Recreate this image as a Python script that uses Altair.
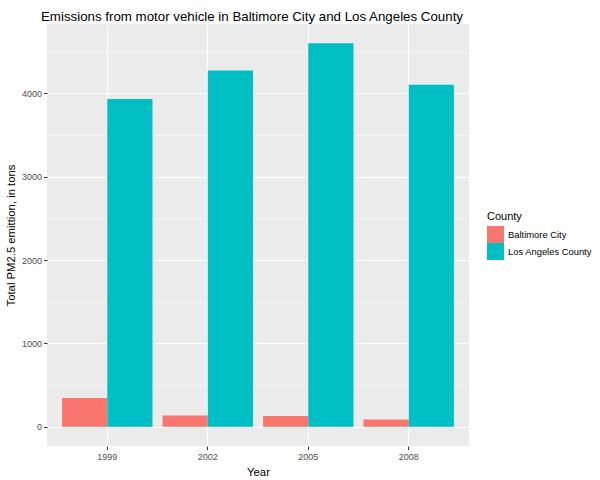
import altair as alt
import pandas as pd

years = ["1999", "2002", "2005", "2008"]
baltimore = [346.82, 134.31, 130.43, 88.28]
los_angeles = [3931.12, 4274.03, 4601.41, 4101.32]
counties = ["Baltimore City", "Los Angeles County"]
colors = ["#F8766D", "#00BFC4"]
y_ticks = [0, 500, 1000, 1500, 2000, 2500, 3000, 3500, 4000, 4500]

rows = []
for y, b, l in zip(years, baltimore, los_angeles):
    rows.append({"Year": y, "County": counties[0], "Emissions": b})
    rows.append({"Year": y, "County": counties[1], "Emissions": l})
df = pd.DataFrame(rows)

FONT = "Liberation Sans"

chart = alt.Chart(df).mark_bar().encode(
    x=alt.X(
        "Year:N",
        sort=years,
        scale=alt.Scale(paddingInner=0.1, paddingOuter=0.15),
        axis=alt.Axis(
            title="Year",
            labelAngle=0,
            grid=True,
            gridColor="white",
            gridWidth=1.1,
            bandPosition=0.5,
            domain=False,
            tickColor="#333333",
            tickSize=3.5,
            tickWidth=1,
            labelColor="#4D4D4D",
            labelFont=FONT,
            labelFontSize=9,
            labelPadding=3,
            titleFont=FONT,
            titleFontSize=11.3,
            titleFontWeight="normal",
            titleColor="black",
            titleY=29,
            titleBaseline="alphabetic",
        ),
    ),
    xOffset=alt.XOffset("County:N", sort=counties, scale=alt.Scale(paddingInner=0, paddingOuter=0)),
    y=alt.Y(
        "Emissions:Q",
        scale=alt.Scale(domain=[-230, 4831], nice=False, zero=False),
        axis=alt.Axis(
            title="Total PM2.5 emittion, in tons",
            values=y_ticks,
            labelExpr="datum.value % 1000 === 0 ? datum.label : ''",
            format="d",
            grid=True,
            gridColor="white",
            gridWidth={"condition": {"test": "datum.value % 1000 === 0", "value": 1.1}, "value": 0.6},
            tickOpacity={"condition": {"test": "datum.value % 1000 === 0", "value": 1}, "value": 0},
            domain=False,
            tickColor="#333333",
            tickSize=3.5,
            tickWidth=1,
            labelColor="#4D4D4D",
            labelFont=FONT,
            labelFontSize=9,
            labelPadding=2,
            titleFont=FONT,
            titleFontSize=11.3,
            titleFontWeight="normal",
            titleColor="black",
            titleX=-36,
            titleY=211,
            titleBaseline="middle",
        ),
    ),
    color=alt.Color(
        "County:N",
        sort=counties,
        scale=alt.Scale(domain=counties, range=colors),
        legend=alt.Legend(
            title="County",
            orient="none",
            legendX=440,
            legendY=187,
            padding=0,
            symbolType="square",
            symbolSize=289,
            symbolStrokeWidth=0,
            symbolOpacity=1,
            rowPadding=0,
            labelOffset=4,
            titlePadding=4,
            titleFont=FONT,
            titleFontSize=11,
            titleFontWeight="normal",
            titleColor="black",
            labelFont=FONT,
            labelFontSize=9.4,
            labelColor="black",
        ),
    ),
).properties(
    width=422,
    height=422,
    autosize="none",
    background="white",
    padding={"left": 47, "top": 24, "right": 131, "bottom": 34},
    title=alt.TitleParams(
        "Emissions from motor vehicle in Baltimore City and Los Angeles County",
        anchor="start",
        frame="group",
        font=FONT,
        fontSize=13.3,
        fontWeight="normal",
        color="black",
        baseline="alphabetic",
        offset=6,
        dx=-6,
        dy=16,
    ),
).configure_view(
    fill="#EBEBEB",
    stroke=None,
)

chart.save("out.html", embed_options={"renderer": "svg", "actions": False})
